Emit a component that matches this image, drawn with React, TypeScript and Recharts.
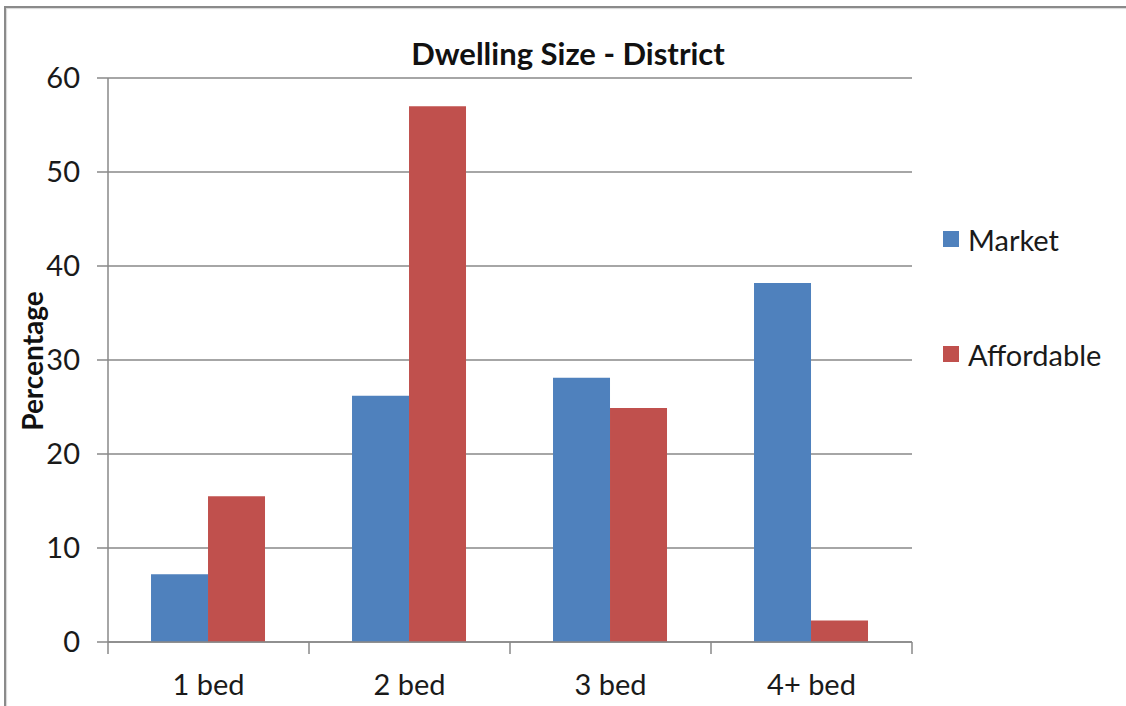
import React from 'react';
import { BarChart, Bar, XAxis, YAxis, CartesianGrid } from 'recharts';

// Chart data
const categories = ['1 bed', '2 bed', '3 bed', '4+ bed'];
const marketValues = [7.2, 26.2, 28.1, 38.2];
const affordableValues = [15.5, 57.0, 24.9, 2.3];
const yTicks = [0, 10, 20, 30, 40, 50, 60];

const seriesNames = ['Market', 'Affordable'];
const COLORS = ['#4F81BD', '#C0504D'];

const FONT = 'Lato, "Open Sans", sans-serif';
const AXIS_GRAY = '#898989';
const TEXT = '#1a1a1a';

const W = 1126;
const H = 706;
const PLOT_LEFT = 108;
const PLOT_TOP = 78;
const PLOT_RIGHT = 912;
const PLOT_BOTTOM = 642;
const BAND = (PLOT_RIGHT - PLOT_LEFT) / categories.length;

const data = categories.map((c, i) => ({
    name: c,
    Market: marketValues[i],
    Affordable: affordableValues[i],
}));

// Excel style: tick marks between categories, label in the middle
const CategoryTick = (props: any) => {
    const { x, payload, index } = props;
    const left = x - BAND / 2;
    const right = x + BAND / 2;
    return (
        <g>
            <line x1={left} y1={PLOT_BOTTOM} x2={left} y2={PLOT_BOTTOM + 12} stroke={AXIS_GRAY} strokeWidth={1.5} />
            {index === categories.length - 1 && (
                <line x1={right} y1={PLOT_BOTTOM} x2={right} y2={PLOT_BOTTOM + 12} stroke={AXIS_GRAY} strokeWidth={1.5} />
            )}
            <text
                x={x}
                y={PLOT_BOTTOM + 41}
                textAnchor="middle"
                dominantBaseline="central"
                fontFamily={FONT}
                fontSize={29}
                fill={TEXT}
            >
                {payload.value}
            </text>
        </g>
    );
};

export default function App() {
    return (
        <div style={{ position: 'absolute', left: 0, top: 0, width: W, height: H, overflow: 'hidden', background: '#fff' }}>
            {/* chart frame */}
            <div
                style={{
                    position: 'absolute',
                    left: 4,
                    top: 6,
                    width: W + 20,
                    height: H + 20,
                    border: '2px solid #8a8a8a',
                    boxShadow: 'inset 1px 1px 1px #d6d6d6',
                }}
            />
            <div
                style={{
                    position: 'absolute',
                    left: 0,
                    width: 1136,
                    top: 31,
                    textAlign: 'center',
                    fontFamily: FONT,
                    fontWeight: 700,
                    fontSize: 31,
                    color: '#111',
                    lineHeight: '44px',
                }}
            >
                Dwelling Size - District
            </div>
            <div
                style={{
                    position: 'absolute',
                    left: 32,
                    top: 361,
                    transform: 'translate(-50%, -50%) rotate(-90deg)',
                    fontFamily: FONT,
                    fontWeight: 700,
                    fontSize: 28,
                    color: '#111',
                    whiteSpace: 'nowrap',
                    lineHeight: '30px',
                }}
            >
                Percentage
            </div>
            {/* legend */}
            <div style={{ position: 'absolute', left: 943, top: 221, fontFamily: FONT, fontSize: 29, color: TEXT }}>
                {seriesNames.map((name, i) => (
                    <div
                        key={name}
                        style={{ display: 'flex', alignItems: 'center', height: 36, marginBottom: i === 0 ? 79 : 0 }}
                    >
                        <span style={{ width: 16, height: 16, background: COLORS[i], display: 'inline-block', marginRight: 9 }} />
                        <span>{name}</span>
                    </div>
                ))}
            </div>
            <div style={{ position: 'absolute', left: 0, top: 0 }}>
                <BarChart
                    width={W}
                    height={H}
                    data={data}
                    margin={{ top: PLOT_TOP, right: W - PLOT_RIGHT, bottom: 0, left: 0 }}
                    barCategoryGap="21.4%"
                    barGap={0}
                >
                    <CartesianGrid vertical={false} stroke={AXIS_GRAY} strokeWidth={1.5} />
                    <XAxis
                        dataKey="name"
                        axisLine={{ stroke: AXIS_GRAY, strokeWidth: 1.5 }}
                        tickLine={false}
                        tick={<CategoryTick />}
                        interval={0}
                        height={H - PLOT_BOTTOM}
                    />
                    <YAxis
                        width={PLOT_LEFT}
                        domain={[0, 60]}
                        ticks={yTicks}
                        interval={0}
                        axisLine={{ stroke: AXIS_GRAY, strokeWidth: 1.5 }}
                        tickLine={{ stroke: AXIS_GRAY, strokeWidth: 1.5 }}
                        tickSize={11}
                        tickMargin={17}
                        tick={{ fontFamily: FONT, fontSize: 29, fill: TEXT }}
                    />
                    <Bar dataKey="Market" fill={COLORS[0]} isAnimationActive={false} />
                    <Bar dataKey="Affordable" fill={COLORS[1]} isAnimationActive={false} />
                </BarChart>
            </div>
        </div>
    );
}
